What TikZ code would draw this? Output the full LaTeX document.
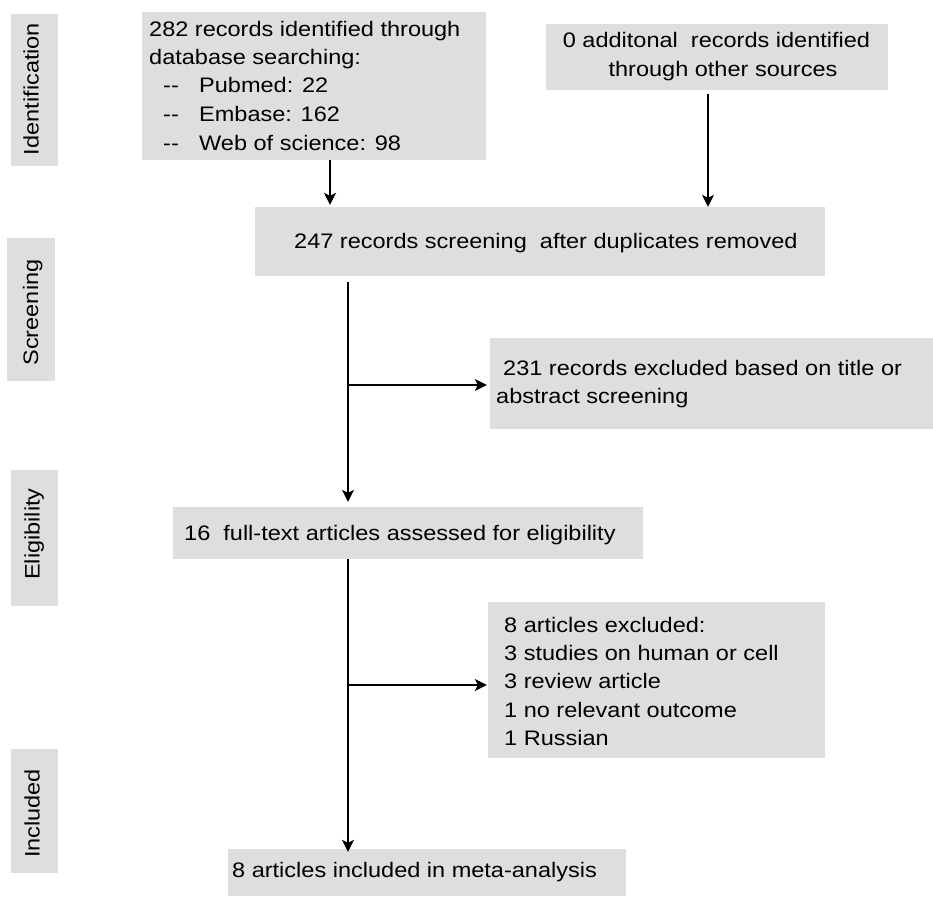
\documentclass[tikz,border=0pt]{standalone}
\usepackage{fontspec}
\setmainfont{Liberation Sans}[FakeStretch=1.12]
\usetikzlibrary{arrows.meta}
\definecolor{boxgray}{RGB}{221,222,222}
\begin{document}
\begin{tikzpicture}[x=1pt,y=-1pt,
  box/.style={rectangle, fill=boxgray, draw=none, inner sep=0pt},
  txt/.style={anchor=base west, inner sep=0pt, font=\fontsize{21}{28.3}\selectfont},
  side/.style={anchor=base, rotate=90, inner sep=0pt, font=\fontsize{21}{28.3}\selectfont},
  arr/.style={-{Stealth[length=12pt,width=12pt,inset=3pt]}, line width=1.3pt, black}]
\useasboundingbox (0,0) rectangle (933,896);

% side stage boxes
\node[box, minimum width=47pt, minimum height=152pt] (sid) at (34.5,90) {};
\node[box, minimum width=48pt, minimum height=143pt] (sscr) at (31,309.5) {};
\node[box, minimum width=47pt, minimum height=136pt] (selig) at (34.5,538) {};
\node[box, minimum width=47pt, minimum height=124pt] (sinc) at (34.5,811) {};
\node[side] (lid) at (38.5,89) {Identification};
\node[side] (lscr) at (38,312.5) {Screening};
\node[side] (lelig) at (39.5,534) {Eligibility};
\node[side] (linc) at (39.5,813.5) {Included};

% main boxes
\node[box, minimum width=344pt, minimum height=148pt] (b1) at (314,86) {};
\node[box, minimum width=342pt, minimum height=66pt] (b2) at (717,57) {};
\node[box, minimum width=570pt, minimum height=69pt] (b3) at (540,241.5) {};
\node[box, minimum width=443pt, minimum height=91pt] (b4) at (711.5,383.5) {};
\node[box, minimum width=470pt, minimum height=52pt] (b5) at (408,533) {};
\node[box, minimum width=337pt, minimum height=156pt] (b6) at (656.5,680) {};
\node[box, minimum width=398pt, minimum height=47pt] (b7) at (427,872.5) {};

% texts
\node[txt] (t1a) at (149,37) {282 records identified through};
\node[txt] (t1b) at (149,65) {database searching:};
\node[txt] (t1c) at (163,93) {\makebox[36pt][l]{-{}-}Pubmed: 22};
\node[txt] (t1d) at (163,122) {\makebox[36pt][l]{-{}-}Embase: 162};
\node[txt] (t1e) at (163,150) {\makebox[36pt][l]{-{}-}Web of science: 98};

\node[txt, anchor=base] (t2a) at (716.5,48) {0 additonal\ \ records identified};
\node[txt, anchor=base] (t2b) at (723,77) {through other sources};

\node[txt] (t3) at (294,248) {247 records screening\ \ after duplicates removed};

\node[txt] (t4a) at (503,375) {231 records excluded based on title or};
\node[txt] (t4b) at (496,403) {abstract screening};

\node[txt] (t5) at (184,540) {16\ \ full-text articles assessed for eligibility};

\node[txt] (t6a) at (504,632) {8 articles excluded:};
\node[txt] (t6b) at (504,660) {3 studies on human or cell};
\node[txt] (t6c) at (504,688) {3 review article};
\node[txt] (t6d) at (504,717) {1 no relevant outcome};
\node[txt] (t6e) at (504,745) {1 Russian};

\node[txt] (t7) at (232,877.5) {8 articles included in meta-analysis};

% connectors
\draw[arr, shorten >=2pt] ([xshift=16pt]b1.south) -- ([xshift=-210pt]b3.north);
\draw[arr] ([xshift=-9pt,yshift=-4pt]b2.south) -- ([xshift=168pt]b3.north);
\draw[arr, shorten >=5pt] ([xshift=-192pt,yshift=-6pt]b3.south) -- ([xshift=-60pt]b5.north);
\coordinate (s1) at (348,385);
\draw[arr, shorten >=3pt] (s1) -- (s1 -| b4.west);
\draw[arr, shorten >=-3pt] ([xshift=-60pt]b5.south) -- ([xshift=-79pt]b7.north);
\coordinate (s2) at (348,685);
\draw[arr, shorten >=1pt] (s2) -- (s2 -| b6.west);
\end{tikzpicture}
\end{document}
